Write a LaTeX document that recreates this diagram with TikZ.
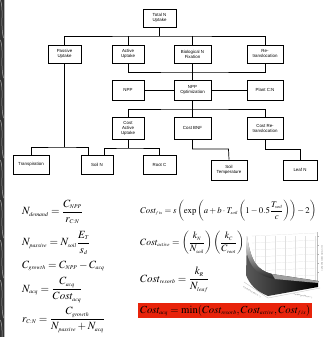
\documentclass[tikz,border=0pt]{standalone}
\usepackage{amsmath}
\usepackage{mathptmx}
\usepackage{fontspec}
\usepackage{graphicx}
\newfontfamily\boxfont{Liberation Sans}
\usetikzlibrary{calc}
\DeclareMathSizes{11}{11}{5.8}{4.8}
\definecolor{redbox}{RGB}{232,35,10}
\tikzset{
  bx/.style={draw=black, line width=0.7pt, fill=white, inner sep=0.5pt, align=center,
    font=\boxfont\fontsize{4.4}{5.0}\selectfont},
  cn/.style={draw=black, line width=0.7pt},
  eq/.style={anchor=west, inner sep=0pt, font=\fontsize{11}{13}\selectfont},
  tiny/.style={font=\boxfont\fontsize{1.7}{2}\selectfont, inner sep=0pt, text=gray!70!black}
}
\begin{document}
\begin{tikzpicture}[x=1pt,y=-1pt]
\useasboundingbox (0,0) rectangle (326,337);
\fill[white] (0,0) rectangle (326,337);
% left decorative strip
\fill[gray!40!black] (0,0) rectangle (4.5,337);
\foreach \yy in {0,40,...,320}{
  \draw[gray!65, line width=0.5pt] (0.5,\yy) .. controls (4,\yy+10) and (0,\yy+25) .. (3.5,\yy+38);
}
\fill[gray!55] (3.5,0) rectangle (4.5,337);

% boxes
\node[bx, minimum width=33pt, minimum height=18pt] (tot) at (159.5,18) {Total N\\Uptake};
\node[bx, minimum width=33pt, minimum height=18pt] (pas) at (64.5,54) {Passive\\Uptake};
\node[bx, minimum width=32pt, minimum height=18pt] (act) at (128,54) {Active\\Uptake};
\node[bx, minimum width=37pt, minimum height=18pt] (bio) at (192.5,54) {Biological N\\Fixation};
\node[bx, minimum width=36pt, minimum height=18pt] (ret) at (265,54) {Re-\\translocation};
\node[bx, minimum width=32pt, minimum height=20pt] (npp) at (128,90) {NPP};
\node[bx, minimum width=37pt, minimum height=20pt] (opt) at (192.5,90) {NPP\\Optimization};
\node[bx, minimum width=36pt, minimum height=20pt] (pcn) at (265,90) {Plant C:N};
\node[bx, minimum width=32pt, minimum height=22pt] (cau) at (128,128) {Cost\\Active\\Uptake};
\node[bx, minimum width=37pt, minimum height=22pt] (cbnf) at (192.5,128) {Cost BNF};
\node[bx, minimum width=36pt, minimum height=22pt] (cre) at (265,128) {Cost Re-\\translocation};
\node[bx, minimum width=36pt, minimum height=19pt] (tra) at (31,164.5) {Transpiration};
\node[bx, minimum width=32pt, minimum height=19pt] (soiln) at (97,164.5) {Soil N};
\node[bx, minimum width=33pt, minimum height=19pt] (rootc) at (159.5,164.5) {Root C};
\node[bx, minimum width=36pt, minimum height=20pt] (stemp) at (229,170) {Soil\\Temperature};
\node[bx, minimum width=34pt, minimum height=20pt] (leafn) at (300,170) {Leaf N};

% connector coordinates
\coordinate (b1) at (159.5,36);
\coordinate (b2) at (192.5,72);
\coordinate (b3) at (192.5,109);
\coordinate (b4) at (64.5,147);
\coordinate (b5) at (128,148);
\coordinate (b6) at (228.5,149);
\coordinate (b7) at (300,149);
\coordinate (sn1) at (88,155);
\coordinate (sn2) at (104,155);

% connectors
\draw[cn] (tot.south) -- (b1);
\draw[cn] (pas.north) |- (b1) -| (ret.north);
\draw[cn] (act.north) -- (act.north |- b1);
\draw[cn] (bio.north) -- (bio.north |- b1);
\draw[cn] (act.south) |- (b2) -| (ret.south);
\draw[cn] (bio.south) -- (opt.north);
\draw[cn] (npp.east) -- (opt.west);
\draw[cn] (opt.east) -- (pcn.west);
\draw[cn] (opt.south) -- (b3);
\draw[cn] (cau.north) |- (b3) -| (cre.north);
\draw[cn] (cbnf.north) -- (cbnf.north |- b3);
\draw[cn] (pas.south) -- (b4);
\draw[cn] (tra.north) |- (b4) -| (sn1);
\draw[cn] (cau.south) -- (b5);
\draw[cn] (sn2) |- (b5) -| (rootc.north);
\draw[cn] (cbnf.south) |- (b6) -- (stemp.north);
\draw[cn] (cre.south) |- (b7) -- (leafn.north);

% left equations
\node[eq] (e1) at (22,212) {$N_{demand}=\dfrac{C_{NPP}}{r_{C:N}}$};
\node[eq] (e2) at (22,243) {$N_{passive}=N_{soil}\dfrac{E_T}{s_d}$};
\node[eq] (e3) at (22,266) {$C_{growth}=C_{NPP}-C_{acq}$};
\node[eq] (e4) at (22,290) {$N_{acq}=\dfrac{C_{acq}}{Cost_{acq}}$};
\node[eq] (e5) at (22,320) {$r_{C:N}=\dfrac{C_{growth}}{N_{passive}+N_{acq}}$};

% chart (surface plot)
\begin{scope}
  \foreach \yy in {236,243,...,285}{\draw[gray!25, line width=0.2pt] (252,\yy) -- (317,\yy-3);}
  \foreach \xx in {255,265,...,315}{\draw[gray!25, line width=0.2pt] (\xx,236) -- (\xx,286);}
  \draw[gray!50, line width=0.3pt] (317,232) -- (317,287);
  \foreach \yy in {236,245,...,286}{\draw[gray!60, line width=0.2pt] (317,\yy) -- (318.5,\yy);}
  \draw[gray!50, line width=0.3pt] (244,282) -- (268,298) -- (320,288);
  \shade[left color=gray!70!black, right color=black]
    (247,236) .. controls (251,262) and (257,270) .. (272,274) -- (318,281) -- (318,287)
    -- (268,296) .. controls (256,291) and (250,285) .. (246,275) -- cycle;
  \shade[top color=white, bottom color=gray!30!black]
    (247,236) .. controls (251,262) and (257,270) .. (272,274) -- (275,279)
    .. controls (258,276) and (250,268) .. (246,250) -- cycle;
  \fill[gray!75] (272,274) -- (318,281) -- (318,283) -- (275,279) -- cycle;
  \node[tiny, rotate=-30] (lx) at (252,292) {Root Biomass (kg C m$^{-2}$)};
  \node[tiny, rotate=-10] (ly) at (303,296) {Soil Nitrogen (kg N m$^{-2}$)};
  \node[tiny, rotate=-90] (lz) at (322,258) {Cost of Active Uptake (kg C/kg N)};
\end{scope}

% right equations
\node[eq] (e6) at (140,211) {\resizebox{176pt}{!}{$Cost_{f\,ix}=s\left(\exp\left(a+b\cdot T_{soil}\left(1-0.5\dfrac{T_{soil}}{c}\right)\right)-2\right)$}};
\node[eq] (e7) at (140,243) {\resizebox{104pt}{!}{$Cost_{active}=\left(\dfrac{k_N}{N_{soil}}\right)\left(\dfrac{k_C}{C_{root}}\right)$}};
\node[eq] (e8) at (140,280) {$Cost_{resorb}=\dfrac{k_R}{N_{leaf}}$};
\fill[redbox] (138,303) rectangle (312,318);
\node[eq] (e9) at (140,310.5) {\resizebox{170pt}{!}{$Cost_{acq}=\min(Cost_{resorb},Cost_{active},Cost_{f\,ix})$}};
\end{tikzpicture}
\end{document}
